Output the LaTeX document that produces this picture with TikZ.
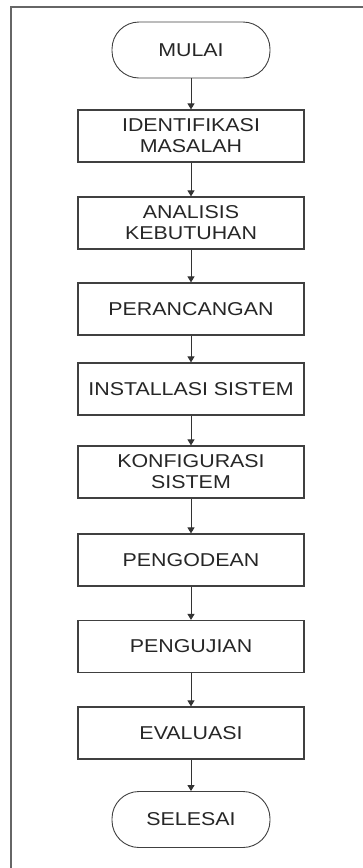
\documentclass[tikz,border=0pt]{standalone}
\usepackage{fontspec}
\setmainfont{Liberation Sans}[FakeStretch=1.15]
\usetikzlibrary{arrows.meta}
\begin{document}
\begin{tikzpicture}[x=1pt,y=-1pt,>={Triangle[width=7pt,length=6pt]},
 proses/.style={draw=black!75,line width=1.2pt,minimum width=226pt,minimum height=52pt,
  inner sep=0pt,align=center,text=black!85,font=\fontsize{18.6}{21}\selectfont},
 terminal/.style={proses,minimum width=158pt,minimum height=56pt,rounded corners=27pt,line width=0.9pt},
 alur/.style={->,draw=black!80,line width=1pt}]
 \useasboundingbox (0,0) rectangle (363,868);
 \draw[black!60,line width=2pt] (11,868) -- (11,6.5) -- (363,6.5);
 \node[terminal] (mulai) at (191,50) {MULAI};
 \node[proses] (identifikasi) at (191,136) {IDENTIFIKASI\\MASALAH};
 \node[proses] (analisis) at (191,223) {ANALISIS\\KEBUTUHAN};
 \node[proses] (perancangan) at (191,309) {PERANCANGAN};
 \node[proses] (installasi) at (191,389) {INSTALLASI SISTEM};
 \node[proses] (konfigurasi) at (191,472) {KONFIGURASI\\SISTEM};
 \node[proses] (pengodean) at (191,560) {PENGODEAN};
 \node[proses] (pengujian) at (191,646.5) {PENGUJIAN};
 \node[proses] (evaluasi) at (191,733) {EVALUASI};
 \node[terminal] (selesai) at (191,819.5) {SELESAI};
 \foreach \a/\b in {mulai/identifikasi,identifikasi/analisis,analisis/perancangan,
  perancangan/installasi,installasi/konfigurasi,konfigurasi/pengodean,
  pengodean/pengujian,pengujian/evaluasi,evaluasi/selesai}
  \draw[alur] (\a) -- (\b);
\end{tikzpicture}
\end{document}
